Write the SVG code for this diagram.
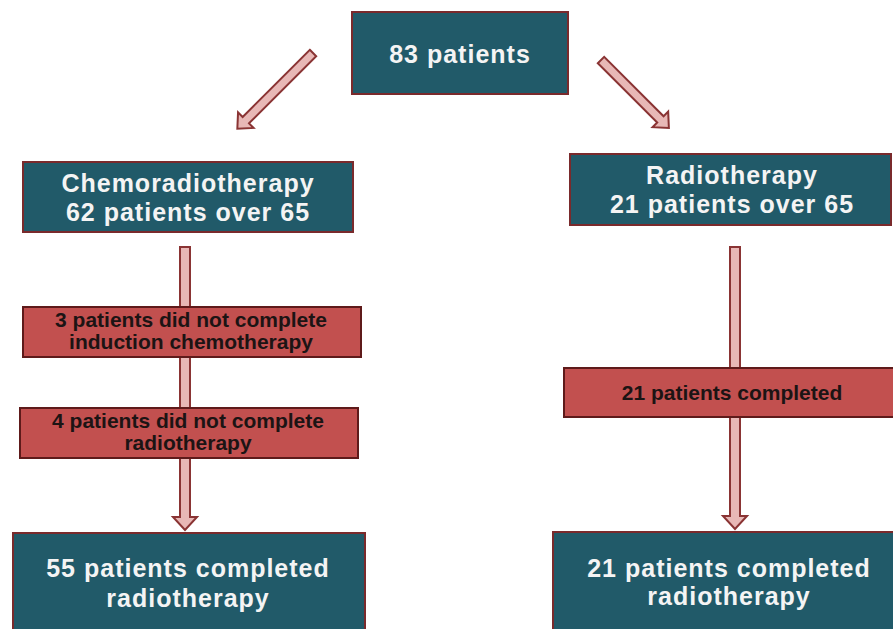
<svg xmlns="http://www.w3.org/2000/svg" width="893" height="629" viewBox="0 0 893 629">
<style>
.teal{fill:#215a69;stroke:#7a2a2c;stroke-width:2}
.red{fill:#c2504f;stroke:#5e1a1a;stroke-width:2}
.arr{fill:#e8b8b6;stroke:#8a3434;stroke-width:2;stroke-linejoin:miter}
.tw{font-family:"Liberation Sans",Arial,sans-serif;font-weight:bold;font-size:25px;fill:#f4f4f4;letter-spacing:1px;text-anchor:middle}
.td{font-family:"Liberation Sans",Arial,sans-serif;font-weight:bold;font-size:21px;fill:#1c1414;text-anchor:middle}
</style>
<rect width="893" height="629" fill="#ffffff"/>
<g id="connectors">
<polygon class="arr" transform="translate(313,53) rotate(45)" points="-4.5,0 4.5,0 4.5,95 11,95 0,107 -11,95 -4.5,95"/>
<polygon class="arr" transform="translate(601,60) rotate(-45)" points="-4.5,0 4.5,0 4.5,84 11,84 0,96 -11,84 -4.5,84"/>
<polygon class="arr" points="180,247 190,247 190,517 197,517 185,530 173,517 180,517"/>
<polygon class="arr" points="730,247 740,247 740,516 747,516 735,529 723,516 730,516"/>
</g>
<g id="n-total">
<rect class="teal" x="352" y="12" width="216" height="82"/>
<text class="tw" x="460" y="63">83 patients</text>
</g>
<g id="n-chemo">
<rect class="teal" x="23" y="162" width="330" height="70"/>
<text class="tw" x="188" y="192">Chemoradiotherapy</text>
<text class="tw" x="188" y="221">62 patients over 65</text>
</g>
<g id="n-radio">
<rect class="teal" x="570" y="154" width="321" height="71"/>
<text class="tw" x="732" y="184">Radiotherapy</text>
<text class="tw" x="732" y="213">21 patients over 65</text>
</g>
<g id="n-induction">
<rect class="red" x="23" y="307" width="338" height="50"/>
<text class="td" x="191" y="327">3 patients did not complete</text>
<text class="td" x="191" y="349">induction chemotherapy</text>
</g>
<g id="n-radio-incomplete">
<rect class="red" x="20" y="408" width="338" height="50"/>
<text class="td" x="188" y="428">4 patients did not complete</text>
<text class="td" x="188" y="450">radiotherapy</text>
</g>
<g id="n-radio-completed">
<rect class="red" x="564" y="368" width="331" height="49"/>
<text class="td" x="732" y="400">21 patients completed</text>
</g>
<g id="n-chemo-final">
<rect class="teal" x="13" y="533" width="352" height="100"/>
<text class="tw" x="188" y="577">55 patients completed</text>
<text class="tw" x="188" y="607">radiotherapy</text>
</g>
<g id="n-radio-final">
<rect class="teal" x="553" y="532" width="342" height="101"/>
<text class="tw" x="729" y="577">21 patients completed</text>
<text class="tw" x="729" y="605">radiotherapy</text>
</g>
</svg>
